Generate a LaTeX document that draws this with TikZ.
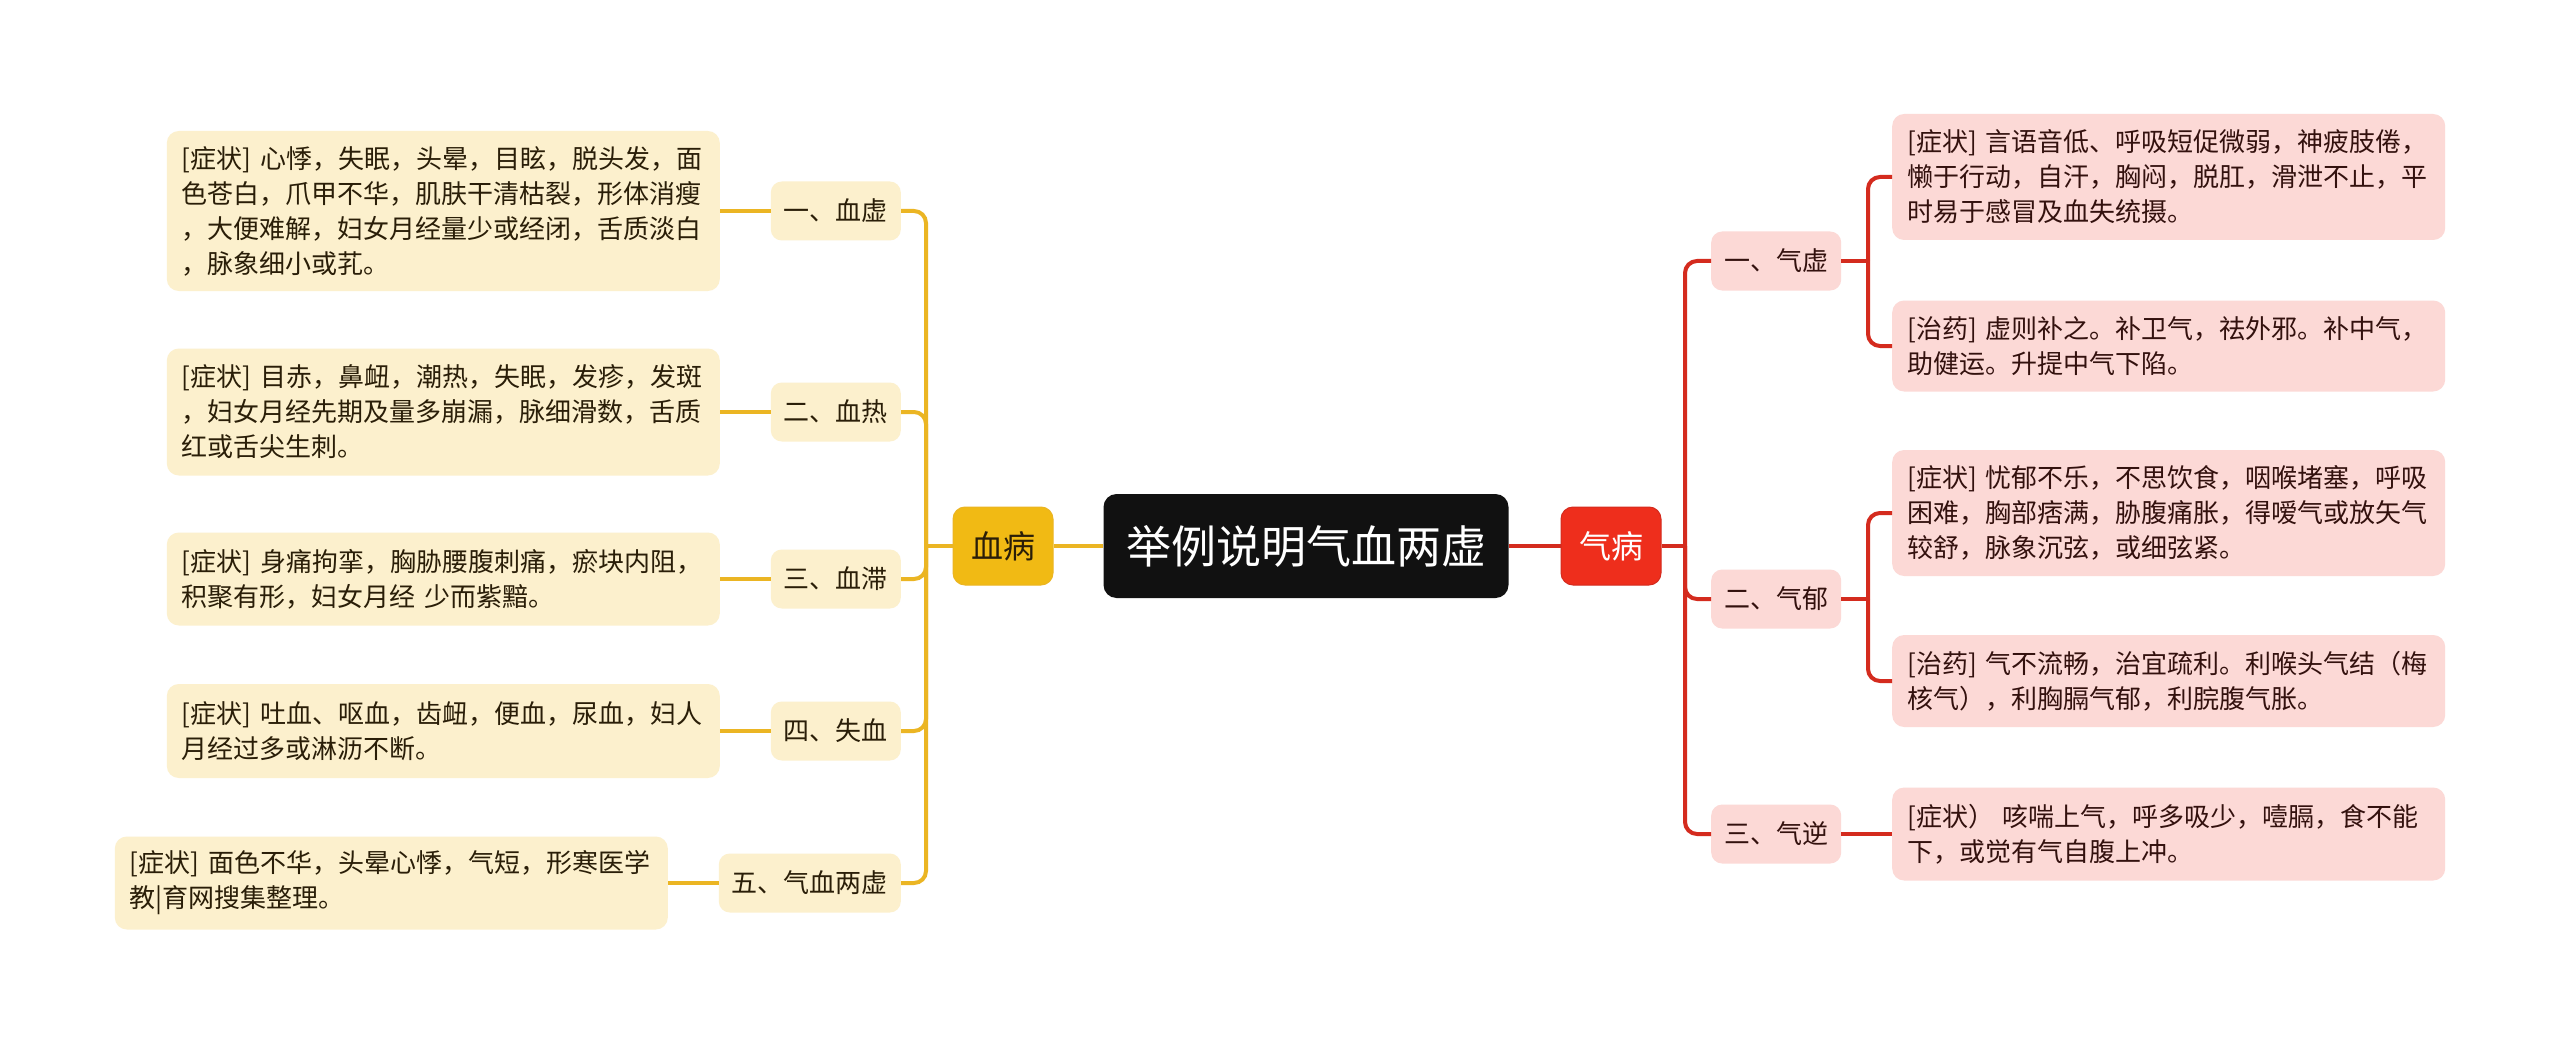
\documentclass[tikz,border=0pt]{standalone}
\usepackage{fontspec}
\setmainfont{Noto Sans CJK SC}
\definecolor{cream}{HTML}{FCF0CD}
\definecolor{pinkf}{HTML}{FCD9D6}
\definecolor{gold}{HTML}{F1BA14}
\definecolor{goldline}{HTML}{EBB523}
\definecolor{redn}{HTML}{EE2E1C}
\definecolor{redline}{HTML}{D42B1E}
\definecolor{txtL}{HTML}{2A1E08}
\definecolor{txtR}{HTML}{33110E}
\definecolor{centerbg}{HTML}{111111}
\newcommand\fsleaf{\fontsize{26pt}{35pt}\selectfont}
\newcommand\fsmain{\fontsize{32pt}{38pt}\selectfont}
\newcommand\fsroot{\fontsize{45pt}{52pt}\selectfont}
\tikzset{
  leafL/.style={fill=cream, rounded corners=12pt, text width=523pt, align=left,
    inner xsep=15pt, inner ysep=0pt, font=\fsleaf, text=txtL, anchor=east},
  leafR/.style={fill=pinkf, rounded corners=12pt, text width=523pt, align=left,
    inner xsep=15pt, inner ysep=0pt, font=\fsleaf, text=txtR, anchor=west},
  midL/.style={fill=cream, rounded corners=11pt, minimum height=59pt, inner xsep=13pt,
    inner ysep=0pt, font=\fsleaf, text=txtL, anchor=east},
  midR/.style={fill=pinkf, rounded corners=11pt, minimum height=59pt, inner xsep=13pt,
    inner ysep=0pt, font=\fsleaf, text=txtR, anchor=west},
  ylink/.style={draw=goldline, line width=4pt},
  rlink/.style={draw=redline, line width=4pt},
}
\begin{document}
\begin{tikzpicture}[x=1pt,y=-1pt]
\useasboundingbox[fill=white] (0,0) rectangle (2560,1043);

% root and main branches
\node[fill=centerbg, rounded corners=13pt, minimum width=405pt, minimum height=104pt,
  font=\fsroot, text=white, inner sep=0pt] (root) at (1306,546) {举例说明气血两虚};
\node[fill=gold, draw=goldline, line width=1pt, rounded corners=12pt, minimum width=100pt,
  minimum height=78pt, font=\fsmain, text=txtL, inner sep=0pt] (xb) at (1003,546) {血病};
\node[fill=redn, draw=redline, line width=1pt, rounded corners=12pt, minimum width=100pt,
  minimum height=78pt, font=\fsmain, text=white, inner sep=0pt] (qb) at (1611,546) {气病};

% left: blood
\node[midL] (m1) at (901,211) {一、血虚};
\node[midL] (m2) at (901,412) {二、血热};
\node[midL] (m3) at (901,579) {三、血滞};
\node[midL] (m4) at (901,731) {四、失血};
\node[midL] (m5) at (901,883) {五、气血两虚};

\node[leafL, minimum height=160pt] (l1) at (720,211) {[症状] 心悸，失眠，头晕，目眩，脱头发，面\\色苍白，爪甲不华，肌肤干清枯裂，形体消瘦\\，大便难解，妇女月经量少或经闭，舌质淡白\\，脉象细小或芤。};
\node[leafL, minimum height=127pt] (l2) at (720,412) {[症状] 目赤，鼻衄，潮热，失眠，发疹，发斑\\，妇女月经先期及量多崩漏，脉细滑数，舌质\\红或舌尖生刺。};
\node[leafL, minimum height=93pt] (l3) at (720,579) {[症状] 身痛拘挛，胸胁腰腹刺痛，瘀块内阻，\\积聚有形，妇女月经 少而紫黯。};
\node[leafL, minimum height=94pt] (l4) at (720,731) {[症状] 吐血、呕血，齿衄，便血，尿血，妇人\\月经过多或淋沥不断。};
\node[leafL, minimum height=93pt] (l5) at (668,883) {[症状] 面色不华，头晕心悸，气短，形寒医学\\教|育网搜集整理。};

% right: qi
\node[midR] (n1) at (1711,261) {一、气虚};
\node[midR] (n2) at (1711,599) {二、气郁};
\node[midR] (n3) at (1711,834) {三、气逆};

\node[leafR, minimum height=126pt] (r1) at (1892,177) {[症状] 言语音低、呼吸短促微弱，神疲肢倦，\\懒于行动，自汗，胸闷，脱肛，滑泄不止，平\\时易于感冒及血失统摄。};
\node[leafR, minimum height=91pt] (r2) at (1892,346) {[治药] 虚则补之。补卫气，祛外邪。补中气，\\助健运。升提中气下陷。};
\node[leafR, minimum height=126pt] (r3) at (1892,513) {[症状] 忧郁不乐，不思饮食，咽喉堵塞，呼吸\\困难，胸部痞满，胁腹痛胀，得嗳气或放矢气\\较舒，脉象沉弦，或细弦紧。};
\node[leafR, minimum height=92pt] (r4) at (1892,681) {[治药] 气不流畅，治宜疏利。利喉头气结（梅\\核气），利胸膈气郁，利脘腹气胀。};
\node[leafR, minimum height=93pt] (r5) at (1892,834) {[症状） 咳喘上气，呼多吸少，噎膈，食不能\\下，或觉有气自腹上冲。};

% junction coordinates
\coordinate (jl) at (926,546);
\coordinate (jr) at (1685,546);
\coordinate (j1) at (1868,261);
\coordinate (j2) at (1868,599);

% connectors
\draw[ylink] (root.west) -- (xb.east);
\draw[ylink] (xb.west) -- (jl);
\foreach \m in {m1,m2,m3,m4,m5} {
  \draw[ylink, rounded corners=12pt] (jl) |- (\m.east);
}
\draw[ylink] (m1.west) -- (l1.east);
\draw[ylink] (m2.west) -- (l2.east);
\draw[ylink] (m3.west) -- (l3.east);
\draw[ylink] (m4.west) -- (l4.east);
\draw[ylink] (m5.west) -- (l5.east);

\draw[rlink] (root.east) -- (qb.west);
\draw[rlink] (qb.east) -- (jr);
\foreach \m in {n1,n2,n3} {
  \draw[rlink, rounded corners=12pt] (jr) |- (\m.west);
}
\draw[rlink] (n1.east) -- (j1);
\draw[rlink, rounded corners=12pt] (j1) |- (r1.west);
\draw[rlink, rounded corners=12pt] (j1) |- (r2.west);
\draw[rlink] (n2.east) -- (j2);
\draw[rlink, rounded corners=12pt] (j2) |- (r3.west);
\draw[rlink, rounded corners=12pt] (j2) |- (r4.west);
\draw[rlink] (n3.east) -- (r5.west);
\end{tikzpicture}
\end{document}
